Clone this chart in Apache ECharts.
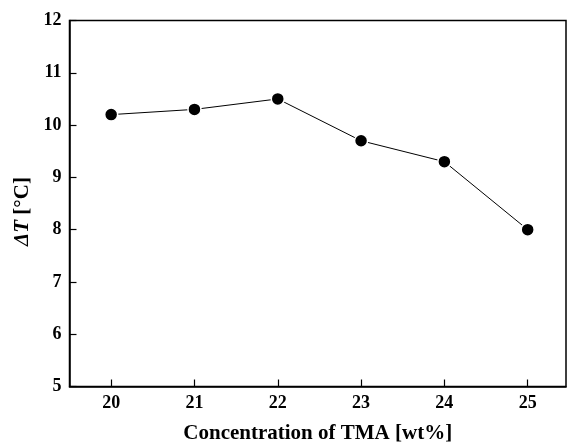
<!DOCTYPE html>
<html><head><meta charset="utf-8">
<script src="https://cdn.jsdelivr.net/npm/echarts@6/dist/echarts.min.js"></script>
<style>html,body{margin:0;padding:0;background:#fff}#c{width:569px;height:446px}</style>
</head><body><div id="c"></div>
<script>
const concentration = [20, 21, 22, 23, 24, 25];
const deltaT = [10.2, 10.3, 10.5, 9.7, 9.3, 8.0];
const xTicks = [20, 21, 22, 23, 24, 25];
const yTicks = [5, 6, 7, 8, 9, 10, 11, 12];

const font = '"Liberation Serif", "Times New Roman", serif';
const chart = echarts.init(document.getElementById('c'));
chart.setOption({
  animation: false,
  backgroundColor: '#fff',
  grid: {left: 69.5, top: 20.5, right: 3, bottom: 59.5, outerBoundsMode: 'none', containLabel: false,
    show: true, borderColor: '#000', borderWidth: 1.5, backgroundColor: 'transparent'},
  xAxis: {
    type: 'value', min: 19.5, max: 25.46, interval: 1,
    axisLine: {show: true, onZero: false, lineStyle: {color: '#000', width: 1.5}},
    axisTick: {show: true, inside: true, length: 7, lineStyle: {color: '#000', width: 1.2}, customValues: xTicks},
    axisLabel: {color: '#000', fontFamily: font, fontWeight: 'bold', fontSize: 18, margin: 8, customValues: xTicks},
    splitLine: {show: false},
    name: 'Concentration of TMA [wt%]', nameLocation: 'middle', nameGap: 37,
    nameTextStyle: {color: '#000', fontFamily: font, fontWeight: 'bold', fontSize: 21}
  },
  yAxis: {
    type: 'value', min: 5, max: 12, interval: 1,
    axisLine: {show: true, onZero: false, lineStyle: {color: '#000', width: 1.5}},
    axisTick: {show: true, inside: true, length: 7, lineStyle: {color: '#000', width: 1.2}, customValues: yTicks},
    axisLabel: {color: '#000', fontFamily: font, fontWeight: 'bold', fontSize: 18, margin: 8, customValues: yTicks},
    splitLine: {show: false},
    name: '{i|ΔT} {n|[°C]}', nameLocation: 'middle', nameGap: 27, nameRotate: 90,
    nameTextStyle: {color: '#000', fontFamily: font, fontWeight: 'bold', fontSize: 21, padding: [0, 16, 0, 0],
      rich: {i: {fontFamily: font, fontWeight: 'bold', fontStyle: 'italic', fontSize: 21, color: '#000'},
             n: {fontFamily: font, fontWeight: 'bold', fontSize: 21, color: '#000'}}}
  },
  series: [{
    type: 'line',
    data: concentration.map((c, i) => [c, deltaT[i]]),
    symbol: 'circle', symbolSize: 13,
    itemStyle: {color: '#000', borderColor: '#fff', borderWidth: 1.5},
    lineStyle: {color: '#000', width: 1},
    z: 3
  }]
});
</script></body></html>
